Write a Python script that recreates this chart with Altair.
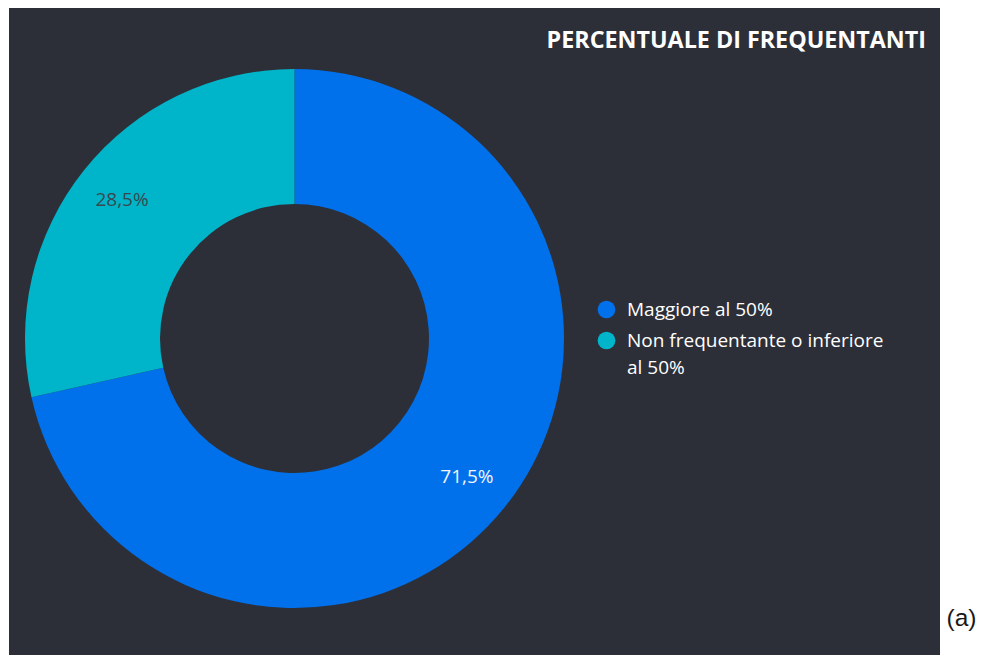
import textwrap
import altair as alt
import pandas as pd

# ---- data ----
categories = ["Maggiore al 50%", "Non frequentante o inferiore al 50%"]
values = [71.5, 28.5]
order = [0, 1]
title_text = "PERCENTUALE DI FREQUENTANTI"
panel_tag = "(a)"

BG = "#2d2f38"
palette = ["#0071eb", "#00b5c9"]
FONT = "Open Sans"

df = pd.DataFrame({"categoria": categories, "valore": values, "ordine": order})

# legend label wrapping (long label split on two lines)
parts = []
for c in categories:
    lines = textwrap.wrap(c, 28)
    if len(lines) > 1:
        arr = "[" + ", ".join("'" + l + "'" for l in lines) + "]"
        parts.append(f"datum.label == '{c}' ? {arr} : ")
label_expr = "".join(parts) + "datum.label"

CX, CY = 285.5, 330.5

base = alt.Chart(df).encode(
    theta=alt.Theta("valore:Q", stack=True),
    order=alt.Order("ordine:Q"),
)

arc = base.mark_arc(innerRadius=134.5, outerRadius=269.5).encode(
    x=alt.value(CX),
    y=alt.value(CY),
    color=alt.Color(
        "categoria:N",
        scale=alt.Scale(domain=categories, range=palette),
        legend=alt.Legend(
            orient="none",
            legendX=588,
            legendY=292,
            title=None,
            symbolType="circle",
            symbolSize=314,
            symbolStrokeWidth=0,
            labelFont=FONT,
            labelFontSize=19,
            labelColor="#ffffff",
            labelOffset=11,
            labelLimit=400,
            rowPadding=11,
            labelExpr=label_expr,
        ),
    ),
)

labels = base.mark_text(radius=221, font=FONT, fontSize=19).encode(
    x=alt.value(CX),
    y=alt.value(CY),
    text=alt.Text("etichetta:N"),
    color=alt.condition(
        alt.datum.categoria == categories[0],
        alt.value("#f2f5fa"),
        alt.value("#3a4750"),
    ),
).transform_calculate(
    etichetta="replace(format(datum.valore, '.1f'), '.', ',') + '%'"
)

title = alt.Chart(pd.DataFrame({"t": [title_text]})).mark_text(
    font=FONT, fontWeight="bold", fontSize=23.3, align="right",
    baseline="alphabetic", color="#ffffff",
).encode(x=alt.value(917), y=alt.value(39.5), text="t:N")

tag = alt.Chart(pd.DataFrame({"t": [panel_tag]})).mark_text(
    font="Liberation Sans", fontSize=24.5, align="left",
    baseline="alphabetic", color="#1a1a1a",
).encode(x=alt.value(937.5), y=alt.value(618), text="t:N")

chart = alt.layer(arc, labels, title, tag).properties(
    width=931,
    height=660,
    padding={"left": 1, "top": 0, "right": 0, "bottom": 0},
    background="#ffffff",
).configure(
    view=alt.ViewConfig(fill=BG, strokeWidth=0),
    style={"guide-label": {"lineHeight": 27}},
)

chart.save("out.html", embed_options={"renderer": "svg", "actions": False})
